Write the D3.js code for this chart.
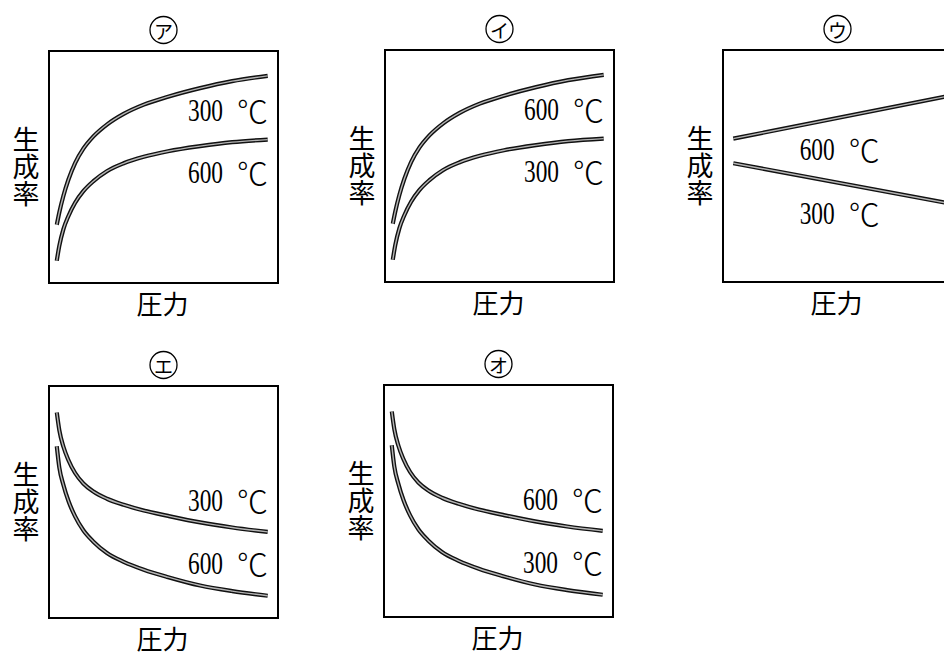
<!DOCTYPE html>
<html>
<head>
<meta charset="utf-8">
<script src="https://cdn.jsdelivr.net/npm/d3@7"></script>
<style>
  body { margin: 0; background: #fff; }
  svg { display: block; }
</style>
</head>
<body>
<div id="chart"></div>
<script>
// pressure (x) and production rate (y), both in arbitrary 0-100 units
const pressure = [3.4, 4.5, 6.3, 8.5, 11.4, 15, 19.4, 25.3, 32.6, 41.4, 52, 66, 80, 95.5];
const riseUpper = [25.1, 30.4, 37.6, 44.6, 51.7, 57.9, 63.2, 68.3, 72.9, 76.9, 80.3, 84.0, 87.0, 89.3];
const riseLower = [9.6, 16.0, 23.2, 28.9, 34.6, 39.6, 43.9, 48.2, 51.6, 54.4, 56.8, 59.0, 60.7, 61.8];
const fallUpper = [88.6, 81.0, 73.8, 68.0, 62.5, 58.0, 54.5, 51.4, 48.8, 46.3, 44.0, 41.2, 39.0, 37.1];
const fallLower = [74.0, 64.9, 57.3, 50.4, 43.8, 37.8, 32.9, 28.0, 24.2, 20.8, 17.6, 14.0, 11.6, 9.6];

const linePressure = [4.5, 98];
const lineUpper = [61.8, 80.1];
const lineLower = [51.2, 34.0];

const panelTitles = ['ア', 'イ', 'ウ', 'エ', 'オ'];
const yLabel = '生成率';
const xLabel = '圧力';

// label text per panel: [upper curve label, lower curve label]
const tempLabels = [
  ['300', '600'],
  ['600', '300'],
  ['600', '300'],
  ['300', '600'],
  ['600', '300'],
];

const series = [
  {x: pressure, hi: riseUpper, lo: riseLower, labelY: [70, 43.3], labelX: 95.2},
  {x: pressure, hi: riseUpper, lo: riseLower, labelY: [70, 43.3], labelX: 95.2},
  {x: linePressure, hi: lineUpper, lo: lineLower, labelY: [52.4, 25.1], labelX: 68},
  {x: pressure, hi: fallUpper, lo: fallLower, labelY: [46, 19.1], labelX: 95.2},
  {x: pressure, hi: fallUpper, lo: fallLower, labelY: [46, 19.1], labelX: 95.2},
];

// layout of the five boxes
const boxes = [
  {left: 49, top: 51},
  {left: 385, top: 50},
  {left: 723, top: 50},
  {left: 49, top: 386},
  {left: 384, top: 385},
];
const boxW = 229;
const boxH = 232;

const svg = d3.select('#chart')
    .append('svg')
    .attr('width', 944)
    .attr('height', 656);

const cjk = '"Noto Sans CJK JP", "Noto Sans CJK SC", sans-serif';

boxes.forEach((b, i) => {
  const x = d3.scaleLinear().domain([0, 100]).range([b.left, b.left + boxW]);
  const y = d3.scaleLinear().domain([0, 100]).range([b.top + boxH, b.top]);
  const g = svg.append('g');
  const s = series[i];
  const cx = b.left + boxW / 2;

  // circled title
  g.append('circle')
      .attr('cx', cx)
      .attr('cy', b.top - 21)
      .attr('r', 13.5)
      .attr('fill', 'none')
      .attr('stroke', '#000')
      .attr('stroke-width', 1.3);
  g.append('text')
      .attr('x', cx)
      .attr('y', b.top - 21)
      .attr('text-anchor', 'middle')
      .attr('dominant-baseline', 'central')
      .style('font-family', cjk)
      .style('font-size', '19px')
      .text(panelTitles[i]);

  // frame
  g.append('rect')
      .attr('x', b.left)
      .attr('y', b.top)
      .attr('width', boxW)
      .attr('height', boxH)
      .attr('fill', 'none')
      .attr('stroke', '#000')
      .attr('stroke-width', 2);

  // y axis label, vertical
  g.append('text')
      .attr('x', b.left - 23)
      .attr('y', b.top + boxH / 2)
      .attr('text-anchor', 'middle')
      .style('writing-mode', 'vertical-rl')
      .style('font-family', cjk)
      .style('font-size', '27px')
      .text(yLabel);

  // x axis label
  g.append('text')
      .attr('x', cx - 1)
      .attr('y', b.top + boxH + 19)
      .attr('text-anchor', 'middle')
      .attr('dominant-baseline', 'central')
      .style('font-family', cjk)
      .style('font-size', '26px')
      .text(xLabel);

  const line = d3.line()
      .x((d) => x(d[0]))
      .y((d) => y(d[1]))
      .curve(s.x.length > 2 ? d3.curveMonotoneX : d3.curveLinear);

  [s.hi, s.lo].forEach((vals) => {
    const pts = s.x.map((v, k) => [v, vals[k]]);
    g.append('path')
        .datum(pts)
        .attr('fill', 'none')
        .attr('stroke', '#111')
        .attr('stroke-width', 4.2)
        .attr('d', line);
    g.append('path')
        .datum(pts)
        .attr('fill', 'none')
        .attr('stroke', '#b5b5b5')
        .attr('stroke-width', 1.4)
        .attr('d', line);
  });

  // temperature labels
  tempLabels[i].forEach((num, k) => {
    const xr = x(s.labelX);
    const yb = y(s.labelY[k]);
    g.append('text')
        .attr('transform', 'translate(' + (xr - 44) + ',' + yb + ') scale(0.73,1)')
        .attr('text-anchor', 'end')
        .style('font-family', '"Liberation Serif", serif')
        .style('font-size', '32px')
        .text(num);
    g.append('text')
        .attr('x', xr + 1)
        .attr('y', yb + 2)
        .attr('text-anchor', 'end')
        .style('font-family', cjk)
        .style('font-size', '31px')
        .style('font-weight', 300)
        .text('℃');
  });
});
</script>
</body>
</html>
